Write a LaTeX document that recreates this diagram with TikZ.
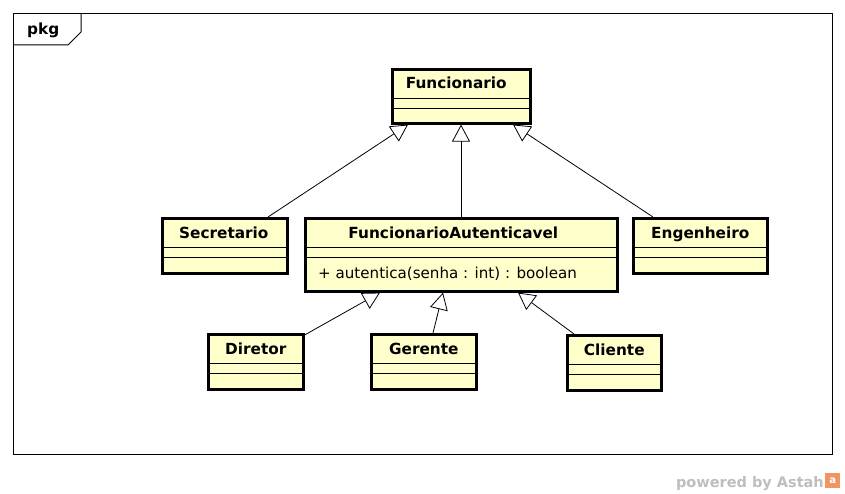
\documentclass[tikz,border=0pt]{standalone}
\usepackage{fontspec}
\setmainfont{DejaVu Sans}
\usetikzlibrary{arrows.meta,calc}
\definecolor{clsfill}{RGB}{255,255,204}
\definecolor{pwgrey}{RGB}{190,190,190}
\definecolor{astahor}{RGB}{240,150,100}
\tikzset{
  cls/.style={draw, fill=clsfill, line width=2.6pt, rectangle, inner sep=0pt, anchor=north west},
  cname/.style={font=\bfseries\fontsize{15.3}{17}\selectfont, inner sep=0pt, anchor=base},
  cmeth/.style={font=\fontsize{15.1}{17}\selectfont, inner sep=0pt, anchor=base west},
  comp/.style={line width=0.8pt},
  gen/.style={line width=0.8pt, -{Triangle[open, length=17pt, width=18pt, line width=0.8pt]}},
  frm/.style={line width=1pt}
}
\begin{document}
\begin{tikzpicture}[x=1pt,y=-1pt]
\useasboundingbox[fill=white] (0,0) rectangle (845,494);
% package frame
\draw[frm] (13,14) rectangle (832,454);
\draw[frm] (13,45) -- (68,45) -- (81,32) -- (81,14);
\node[cname, anchor=base west] (pkg) at (27,35) {pkg};

% classes
\node[cls, minimum width=138, minimum height=54] (fun) at (391,68) {};
\node[cls, minimum width=125, minimum height=55] (sec) at (161,217) {};
\node[cls, minimum width=312, minimum height=73] (fa) at (304,217) {};
\node[cls, minimum width=134, minimum height=55] (eng) at (632,217) {};
\node[cls, minimum width=95, minimum height=55] (dir) at (207,333) {};
\node[cls, minimum width=105, minimum height=55] (ger) at (370,333) {};
\node[cls, minimum width=94, minimum height=55] (cli) at (566,334) {};

% compartments and names
\foreach \n/\t/\dx in {fun/Funcionario/-5, sec/Secretario/-1, eng/Engenheiro/0, dir/Diretor/0, ger/Gerente/0, cli/Cliente/0, fa/FuncionarioAutenticavel/-8}{
  \draw[comp] ($(\n.north west)+(1,30)$) -- ($(\n.north east)+(-1,30)$);
  \draw[comp] ($(\n.north west)+(1,40)$) -- ($(\n.north east)+(-1,40)$);
  \node[cname] (\n-name) at ($(\n.north)+(\dx,21)$) {\t};
}
\node[cmeth] (fa-m) at ($(fa.north west)+(14,61)$) {+ autentica(senha : int) : boolean};

% attachment points
\coordinate (fun-l) at ($(fun.south west)+(17,0)$);
\coordinate (fun-c) at ($(fun.south west)+(70,0)$);
\coordinate (fun-r) at ($(fun.south west)+(122,0)$);
\coordinate (sec-t) at ($(sec.north west)+(107,0)$);
\coordinate (fa-t) at ($(fa.north west)+(157,0)$);
\coordinate (eng-t) at ($(eng.north west)+(21,0)$);
\coordinate (fa-l) at ($(fa.south west)+(76,0)$);
\coordinate (fa-c) at ($(fa.south west)+(139,0)$);
\coordinate (fa-r) at ($(fa.south west)+(214,0)$);
\coordinate (dir-t) at ($(dir.north east)+(0,2)$);
\coordinate (ger-t) at ($(ger.north west)+(63,0)$);
\coordinate (cli-t) at ($(cli.north west)+(8,0)$);

% generalizations
\draw[gen] (sec-t) -- (fun-l);
\draw[gen] (fa-t) -- (fun-c);
\draw[gen] (eng-t) -- (fun-r);
\draw[gen] (dir-t) -- (fa-l);
\draw[gen] (ger-t) -- (fa-c);
\draw[gen] (cli-t) -- (fa-r);

% watermark
\node[font=\bfseries\fontsize{14.5}{17}\selectfont, text=pwgrey, anchor=base east, inner sep=0pt] (pw) at (824,487) {powered by Astah};
\node[fill=astahor, minimum width=15, minimum height=15, inner sep=0pt, anchor=south west, font=\bfseries\fontsize{10}{10}\selectfont, text=white] (logo) at (825,488) {a};
\end{tikzpicture}
\end{document}
